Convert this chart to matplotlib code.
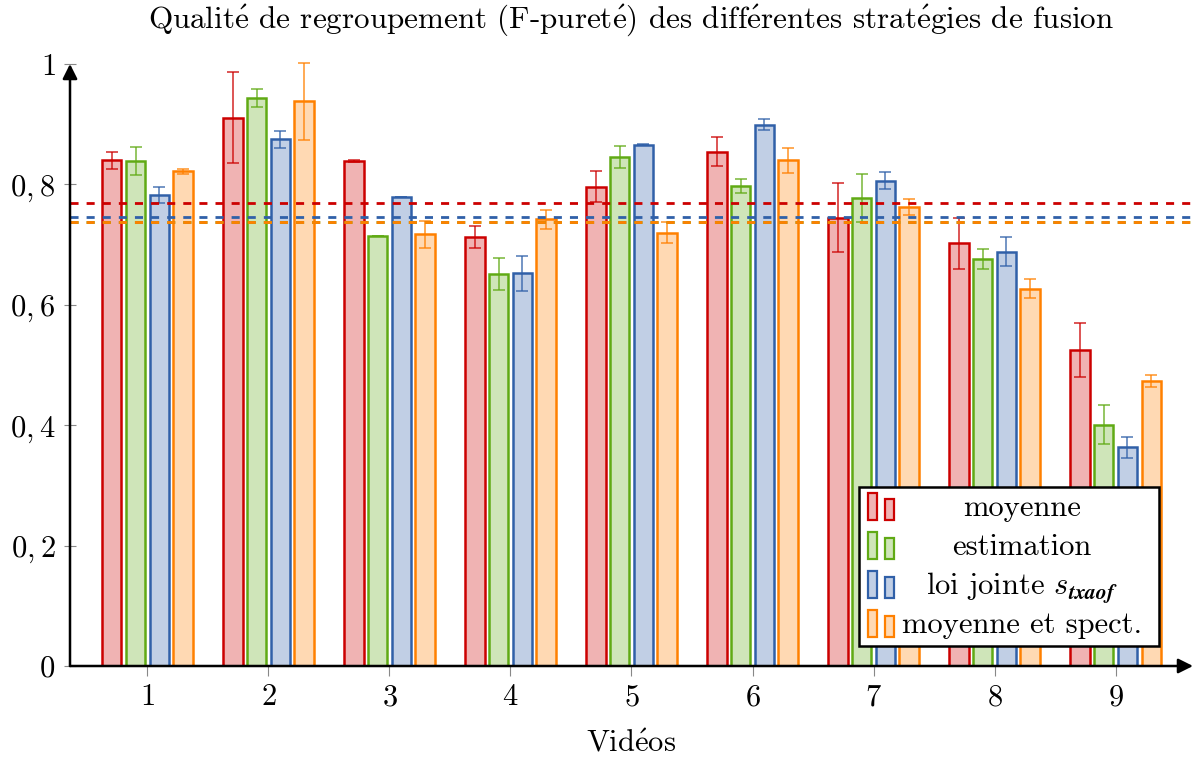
import numpy as np
import matplotlib
matplotlib.use("Agg")
import matplotlib.pyplot as plt
from matplotlib.patches import Rectangle

plt.rcParams['font.family'] = ['cmr10', 'DejaVu Serif']
plt.rcParams['mathtext.fontset'] = 'cm'
plt.rcParams['axes.formatter.use_mathtext'] = True

# data
videos = [1, 2, 3, 4, 5, 6, 7, 8, 9]
series = ['moyenne', 'estimation', r'loi jointe $s_{\mathbfit{txaof}}$', 'moyenne et spect.']
moyenne = [0.840, 0.911, 0.839, 0.713, 0.796, 0.854, 0.745, 0.702, 0.525]
moyenne_err = [0.014, 0.075, 0.001, 0.018, 0.026, 0.024, 0.057, 0.042, 0.045]
estimation = [0.839, 0.943, 0.714, 0.651, 0.846, 0.797, 0.778, 0.676, 0.401]
estimation_err = [0.023, 0.015, 0.0, 0.027, 0.018, 0.012, 0.040, 0.016, 0.032]
jointe = [0.782, 0.875, 0.779, 0.652, 0.866, 0.899, 0.806, 0.688, 0.363]
jointe_err = [0.013, 0.014, 0.0, 0.029, 0.001, 0.009, 0.014, 0.024, 0.017]
spect = [0.822, 0.938, 0.717, 0.742, 0.720, 0.840, 0.763, 0.627, 0.474]
spect_err = [0.004, 0.064, 0.023, 0.016, 0.018, 0.021, 0.013, 0.016, 0.010]

values = [moyenne, estimation, jointe, spect]
errors = [moyenne_err, estimation_err, jointe_err, spect_err]
edges = ['#CC0000', '#60AA14', '#3060A8', '#FF8000']
offsets = [-0.295, -0.098, 0.098, 0.295]

# cmr10 has no accented glyphs, so build é with mathtext
E = r'$\mathrm{\acute{e}}$'
title = ('Qualit' + E + ' de regroupement (F-puret' + E + ') des diff' + E
         + 'rentes strat' + E + 'gies de fusion')
xlabel = 'Vid' + E + 'os'


def light(c, f=0.3):
    rgb = np.array(matplotlib.colors.to_rgb(c))
    return tuple(f * rgb + (1 - f))


fig = plt.figure(figsize=(12.03, 7.63), dpi=100)
W, H = 1203, 763
L, R, B, T = 70, 1193, 666, 64
ax = fig.add_axes([L / W, (H - B) / H, (R - L) / W, (B - T) / H])

x = np.array(videos)
for vals, errs, ec, off in zip(values, errors, edges, offsets):
    ax.bar(x + off, vals, width=0.161, color=light(ec), edgecolor=ec,
           linewidth=1.8, zorder=2)
    ax.errorbar(x + off, vals, yerr=errs, fmt='none', ecolor=ec, elinewidth=1.1,
                capsize=4.5, capthick=1.1, alpha=0.85, zorder=3, clip_on=False)

# mean lines
for vals, ec in zip(values, edges):
    ax.axhline(np.mean(vals), color=ec, lw=2, linestyle=(0, (2.9, 2.9)), zorder=4)

ax.set_xlim(0.36, 9.64)
ax.set_ylim(0, 1)
for s in ax.spines.values():
    s.set_visible(False)

# arrow axes
ax.annotate('', xy=(0, 1.0), xytext=(0, 0), xycoords='axes fraction',
            arrowprops=dict(arrowstyle='-|>', lw=1.8, color='black',
                            mutation_scale=22, shrinkA=0, shrinkB=0), zorder=6)
ax.annotate('', xy=(1.0, 0), xytext=(0, 0), xycoords='axes fraction',
            arrowprops=dict(arrowstyle='-|>', lw=1.8, color='black',
                            mutation_scale=22, shrinkA=0, shrinkB=0), zorder=6)

yt = [0, 0.2, 0.4, 0.6, 0.8, 1.0]
ax.set_yticks(yt)
ax.set_yticklabels(['$0$', '$0,2$', '$0,4$', '$0,6$', '$0,8$', '$1$'])
ax.set_xticks(videos)
ax.set_xticklabels(['$%d$' % v for v in videos])
ax.tick_params(axis='y', direction='inout', length=9, width=0.8, color='#888888',
               labelsize=22, pad=6)
ax.tick_params(axis='x', direction='out', length=7, width=0.8, color='#888888',
               labelsize=22, pad=6)

ax.set_title(title, fontsize=22.4, pad=26)
ax.set_xlabel(xlabel, fontsize=22, labelpad=13)


# legend drawn in pixel coordinates of the reference
def px(xp, yp):
    return ((xp - L) / (R - L), (B - yp) / (B - T))


bx0, by0 = px(859, 646)
bx1, by1 = px(1159, 487)
ax.add_patch(Rectangle((bx0, by0), bx1 - bx0, by1 - by0, transform=ax.transAxes,
                       facecolor='white', edgecolor='black', lw=1.8, zorder=10,
                       clip_on=False))
for i, (name, ec) in enumerate(zip(series, edges)):
    base = 520 + 39 * i
    for (xa, xb, top) in [(868, 877, 493), (884.5, 894, 499)]:
        p0 = px(xa, base)
        p1 = px(xb, top + 39 * i)
        ax.add_patch(Rectangle(p0, p1[0] - p0[0], p1[1] - p0[1], transform=ax.transAxes,
                               facecolor=light(ec), edgecolor=ec, lw=1.6, zorder=11,
                               clip_on=False))
    tx, ty = px(1022, base - 4)
    ax.text(tx, ty, name, transform=ax.transAxes, ha='center', va='baseline',
            fontsize=22, zorder=12)

fig.savefig('out.png', dpi=100)
